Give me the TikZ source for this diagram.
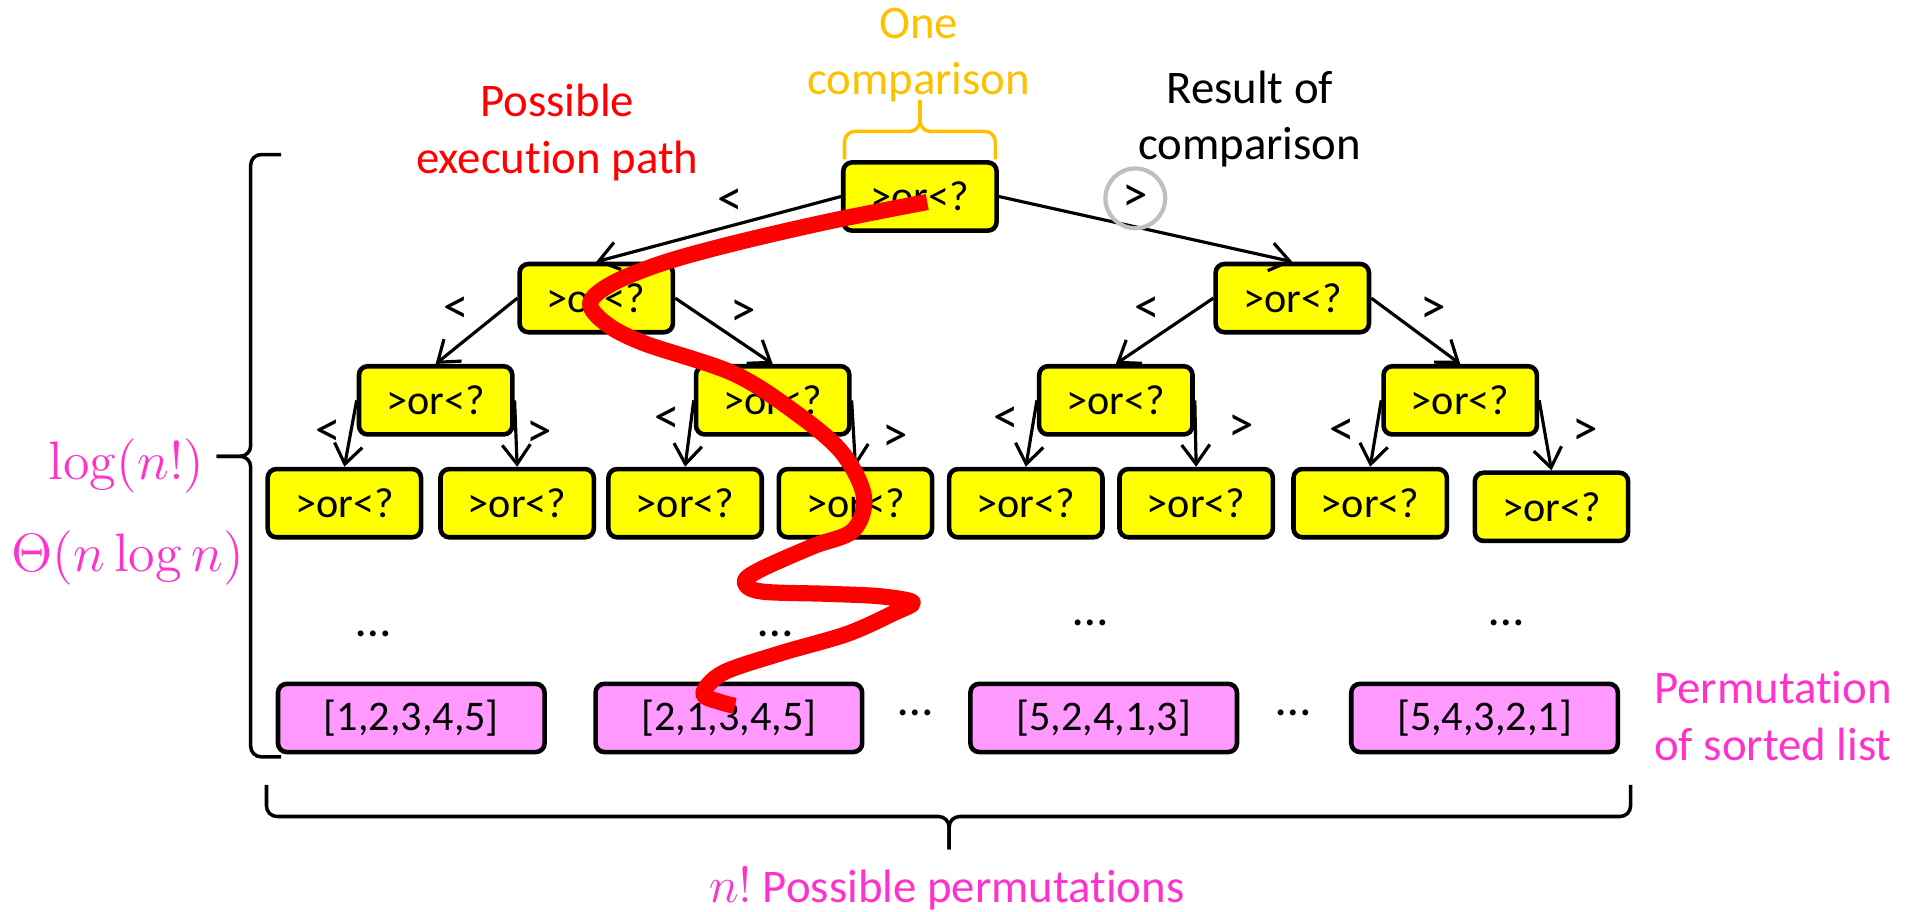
\documentclass[tikz,border=0pt]{standalone}
\usepackage[no-math]{fontspec}
\setmainfont{Carlito}[RawFeature={-liga;-clig;-calt;-dlig}]
\usetikzlibrary{arrows.meta}

\definecolor{boxyellow}{HTML}{FFFF00}
\definecolor{permpink}{HTML}{FF99FF}
\definecolor{labelmagenta}{HTML}{FF33CC}
\definecolor{braceorange}{HTML}{FFC000}
\definecolor{pathred}{HTML}{FF0000}
\definecolor{ringgray}{HTML}{BFBFBF}

\begin{document}
\begin{tikzpicture}[x=0.012168cm, y=-0.012168cm,
  cmp/.style={draw, line width=1.3pt, rounded corners=2.5pt, fill=boxyellow,
    minimum width=43.6pt, minimum height=19.4pt, inner sep=0pt,
    font=\fontsize{12}{14}\selectfont},
  perm/.style={cmp, fill=permpink, minimum width=75.8pt},
  link/.style={line width=0.9pt, -{Straight Barb[length=5.5pt,width=8pt,line width=0.9pt]}},
  elabel/.style={font=\fontsize{14.5}{17}\selectfont, inner sep=0pt},
  annot/.style={align=center, font=\fontsize{13.3}{16}\selectfont, inner sep=0pt},
  dotsl/.style={font=\fontsize{14}{16}\selectfont, inner sep=0pt},
  mathlabel/.style={text=labelmagenta, font=\fontsize{14.4}{17}\selectfont, inner sep=0pt,
    scale=1.07, transform shape},
  bracel/.style={line width=1pt, rounded corners=3pt},
]
\useasboundingbox (0,0) rectangle (1568,749);

% comparison tree
\node[cmp] (n1) at (756,161.5) {>or<?};

\node[cmp] (n2) at (490,245) {>or<?};
\node[cmp] (n3) at (1062,245) {>or<?};

\node[cmp] (n4) at (358,329) {>or<?};
\node[cmp] (n5) at (635,329) {>or<?};
\node[cmp] (n6) at (917,329) {>or<?};
\node[cmp] (n7) at (1200,329) {>or<?};

\node[cmp] (n8)  at (283,413.5) {>or<?};
\node[cmp] (n9)  at (425,413.5) {>or<?};
\node[cmp] (n10) at (563,413.5) {>or<?};
\node[cmp] (n11) at (703,413.5) {>or<?};
\node[cmp] (n12) at (843,413.5) {>or<?};
\node[cmp] (n13) at (983,413.5) {>or<?};
\node[cmp] (n14) at (1126,413.5) {>or<?};
\node[cmp] (n15) at (1275,416.5) {>or<?};

% leaves: permutations
\node[perm] (p1) at (338,590) {[1,2,3,4,5]};
\node[perm] (p2) at (599,590) {[2,1,3,4,5]};
\node[perm] (p3) at (907,590) {[5,2,4,1,3]};
\node[perm] (p4) at (1220,590) {[5,4,3,2,1]};

% branches
\draw[link] (n1.west) -- (n2.north);
\draw[link] (n1.east) -- (n3.north);
\draw[link] (n2.west) -- (n4.north);
\draw[link] (n2.east) -- (n5.north);
\draw[link] (n3.west) -- (n6.north);
\draw[link] (n3.east) -- (n7.north);
\draw[link] (n4.west) -- (n8.north);
\draw[link] (n4.east) -- (n9.north);
\draw[link] (n5.west) -- (n10.north);
\draw[link] (n5.east) -- (n11.north);
\draw[link] (n6.west) -- (n12.north);
\draw[link] (n6.east) -- (n13.north);
\draw[link] (n7.west) -- (n14.north);
\draw[link] (n7.east) -- (n15.north);

% branch labels
\node[elabel] (e1l) at (600,166) {<};
\node[elabel, circle, draw=ringgray, line width=1.2pt, minimum size=17pt] (e1r) at (933,163) {>};
\node[elabel] (e2l) at (375,255) {<};
\node[elabel] (e2r) at (611,257) {>};
\node[elabel] (e3l) at (943,255) {<};
\node[elabel] (e3r) at (1178,255) {>};
\node[elabel] (e4l) at (270,356) {<};
\node[elabel] (e4r) at (443,357) {>};
\node[elabel] (e5l) at (548,345) {<};
\node[elabel] (e5r) at (736,360) {>};
\node[elabel] (e6l) at (827,345) {<};
\node[elabel] (e6r) at (1020,352) {>};
\node[elabel] (e7l) at (1103,355) {<};
\node[elabel] (e7r) at (1303,355) {>};

% elided levels
\node[dotsl] (d1) at (307,521) {…};
\node[dotsl] (d2) at (637,521) {…};
\node[dotsl] (d3) at (896,512) {…};
\node[dotsl] (d4) at (1238,512) {…};
\node[dotsl] (d5) at (752,586) {…};
\node[dotsl] (d6) at (1063,586) {…};

% braces
\draw[bracel, braceorange] (694,131) -- (694,108) -- (756,108) -- (756,82);
\draw[bracel, braceorange] (756,82) -- (756,108) -- (818,108) -- (818,131);
\draw[bracel] (231,127) -- (206,127) -- (206,375) -- (178,375);
\draw[bracel] (178,375) -- (206,375) -- (206,622) -- (231,622);
\draw[bracel] (219,645) -- (219,671) -- (780,671) -- (780,698);
\draw[bracel] (780,698) -- (780,671) -- (1340,671) -- (1340,645);

% one execution path through the tree
\draw[pathred, line width=4.6pt, line join=round] plot[smooth, tension=0.55] coordinates {
  (762,166) (681,182) (603,200) (545,216) (503,233) (485,249) (498,266)
  (529,282) (603,307) (655,340) (692,372) (710,408) (701,436) (668,449)
  (625,468) (612,478) (625,486) (680,488) (723,490) (750,495) (734,504)
  (696,521) (641,537) (594,553) (578,570) (592,577) (604,580)};

% annotations
\node[annot, text=pathred] (pathlbl) at (458,109) {Possible\\execution path};
\node[annot, text=braceorange] (onelbl) at (755,45.5) {One\\comparison};
\node[annot] (reslbl) at (1027,98) {Result of\\comparison};
\node[annot, text=labelmagenta] (permlbl) at (1457,588.5) {Permutation\\of sorted list};
\node[annot, text=labelmagenta, anchor=base] (countlbl) at (778,742) {$n!$ Possible permutations};
\node[mathlabel, anchor=base] (loglbl) at (104,394) {$\log(n!)$};
\node[mathlabel, anchor=base] (thetalbl) at (105,470) {$\Theta(n\log n)$};
\end{tikzpicture}
\end{document}
